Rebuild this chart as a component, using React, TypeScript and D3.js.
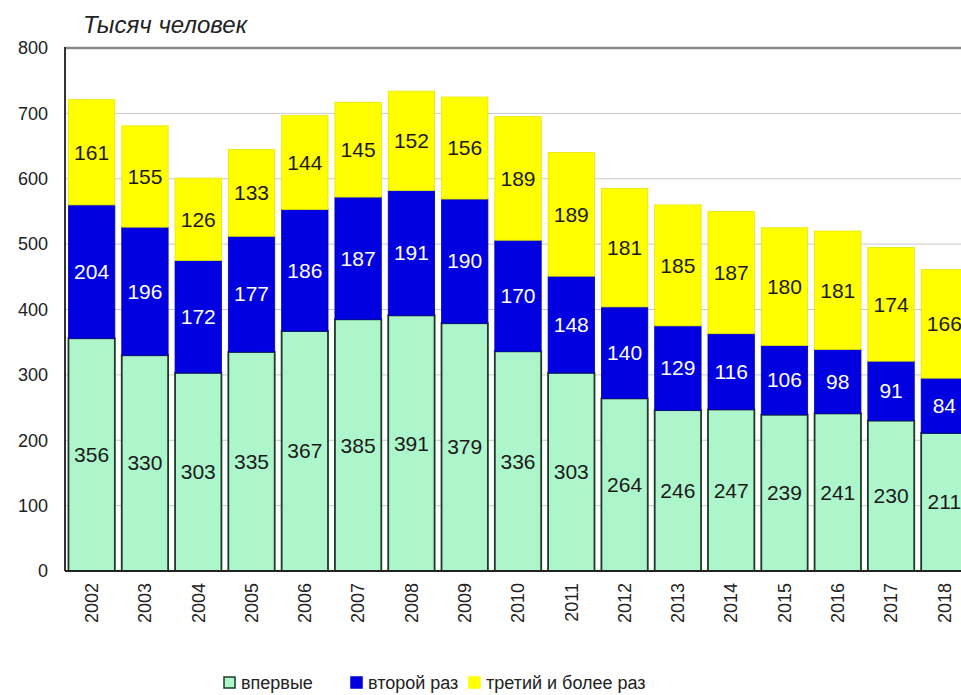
import React from "react";
import * as d3 from "d3";

const years = ["2002","2003","2004","2005","2006","2007","2008","2009","2010","2011","2012","2013","2014","2015","2016","2017","2018"];
const first = [356,330,303,335,367,385,391,379,336,303,264,246,247,239,241,230,211];
const second = [204,196,172,177,186,187,191,190,170,148,140,129,116,106,98,91,84];
const third = [161,155,126,133,144,145,152,156,189,189,181,185,187,180,181,174,166];
const yTicks = [0,100,200,300,400,500,600,700,800];
const seriesNames = ["впервые","второй раз","третий и более раз"];
const colors = ["#adf5ca","#0000e0","#ffff00"];
const strokes = ["#1c3a26","#0000a8","#e6e600"];
const labelColors = ["#1a1a1a","#ffffff","#1a1a1a"];

const W = 961, H = 695;
const left = 65, top = 48, bottom = 571, right = 971;

export default function App() {
  const x = d3.scaleBand<string>().domain(years).range([left, right]).paddingInner(0.13).paddingOuter(0.065);
  const y = d3.scaleLinear().domain([0, 800]).range([bottom, top]);
  const table = years.map((yr, i) => ({ year: yr, s0: first[i], s1: second[i], s2: third[i] }));
  const stacked = d3.stack<any>().keys(["s0","s1","s2"])(table);
  const font = "Arial, 'Liberation Sans', sans-serif";
  const legendX = [224, 351, 469];
  return (
    <svg width={W} height={H} style={{ position: "absolute", left: 0, top: 0, background: "#fff" }} fontFamily={font}>
      <rect x={0} y={0} width={W} height={H} fill="#fff" />
      {yTicks.filter(t => t > 0 && t < 800).map(t => (
        <line key={t} x1={left} x2={W} y1={y(t)} y2={y(t)} stroke="#c8c8c8" strokeWidth={1} />
      ))}
      <line x1={left} x2={W} y1={y(800)} y2={y(800)} stroke="#8a8a8a" strokeWidth={2.5} />
      {stacked.map((layer, si) => (
        <g key={si}>
          {layer.map((d, i) => (
            <rect key={i} x={x(years[i])!} width={x.bandwidth()} y={y(d[1])} height={y(d[0]) - y(d[1])}
              fill={colors[si]} stroke={strokes[si]} strokeWidth={si === 0 ? 1.8 : 0.8} />
          ))}
        </g>
      ))}
      {stacked.map((layer, si) => (
        <g key={"l" + si}>
          {layer.map((d, i) => (
            <text key={i} x={x(years[i])! + x.bandwidth() / 2} y={y((d[0] + d[1]) / 2)} dy="0.35em"
              textAnchor="middle" fontSize={21} fill={labelColors[si]}>{d[1] - d[0]}</text>
          ))}
        </g>
      ))}
      <line x1={left} x2={left} y1={top - 1} y2={bottom} stroke="#333" strokeWidth={2} />
      <line x1={left} x2={W} y1={bottom} y2={bottom} stroke="#222" strokeWidth={2} />
      {yTicks.map(t => (
        <text key={t} x={48} y={y(t)} dy="0.35em" textAnchor="end" fontSize={18} fill="#222">{t}</text>
      ))}
      {years.map(yr => (
        <text key={yr} transform={`translate(${x(yr)! + x.bandwidth() / 2},583) rotate(-90)`} dy="0.35em"
          textAnchor="end" fontSize={18} fill="#222">{yr}</text>
      ))}
      <text x={83} y={33} fontSize={24} fontStyle="italic" fill="#222">Тысяч человек</text>
      {seriesNames.map((n, i) => (
        <g key={n}>
          <rect x={legendX[i]} y={677} width={11} height={11} fill={colors[i]} stroke={i === 0 ? "#1c3a26" : colors[i]} strokeWidth={1.5} />
          <text x={legendX[i] + 17} y={683} dy="0.35em" fontSize={18} fill="#222">{n}</text>
        </g>
      ))}
    </svg>
  );
}
